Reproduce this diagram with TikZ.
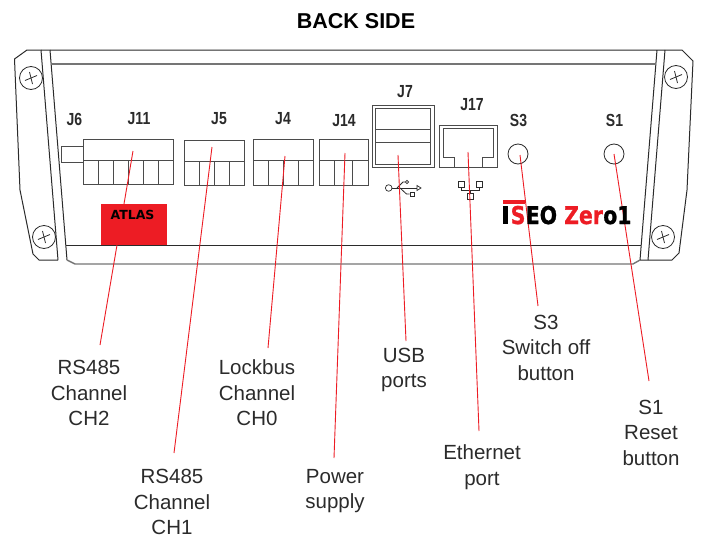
\documentclass[tikz,border=0pt]{standalone}
\usepackage{fontspec}
\setmainfont{Liberation Sans}
\newfontfamily\heavyfont{DejaVu Sans}
\newfontfamily\logofont[BoldFeatures={FakeBold=1.2}]{DejaVu Sans}
\definecolor{redline}{HTML}{ED1C24}
\definecolor{ink}{HTML}{2B2B2B}
\newcommand{\jtxt}[1]{\scalebox{0.8}[1]{\fontsize{17.5}{17.5}\selectfont\bfseries #1}}
\newcommand{\lgtxt}[1]{\scalebox{1}[1.2]{\logofont\fontsize{20.4}{20.4}\selectfont\bfseries #1}}
\begin{document}
\begin{tikzpicture}[x=1pt,y=-1pt,
  body/.style={draw=ink,line width=1pt,line join=round},
  thin part/.style={draw=ink,line width=0.8pt},
  conn/.style={draw=ink!85,line width=0.9pt},
  leader/.style={draw=redline,line width=0.9pt},
  callout/.style={align=center,font=\fontsize{20.5}{25.5}\selectfont,inner sep=0pt,text=ink},
  jlabel/.style={inner sep=0pt,text=ink},
  screw/.style={circle,draw=ink,line width=0.8pt,minimum size=23pt,inner sep=0pt},
  button/.style={circle,draw=ink,line width=0.8pt,minimum size=20pt,inner sep=0pt},
  logo/.style={inner sep=0pt,anchor=base west}]
\useasboundingbox (0,0) rectangle (701,538);
\fill[white] (0,0) rectangle (701,538);
\node[inner sep=0pt,text=black,font=\fontsize{21.5}{21.5}\selectfont\bfseries] (title) at (356,21) {BACK SIDE};
% enclosure
\draw[body] (41,50) -- (27,50) -- (14.5,59) -- (20,190) -- (33,254) -- (39,260) -- (58,260);
\draw[body] (41,50) -- (58,260);
\draw[body] (50,50) -- (67,260);
\draw[body] (41,50) -- (657,50) -- (682,50) -- (693,61) -- (687,190) -- (679,253) -- (672,260) -- (640,260) -- (657,50);
\draw[body] (665,50) -- (648,260);
\draw[draw=ink!65,line width=1.4pt] (67,260) -- (75,264) -- (633,264) -- (640,260);
\draw[draw=ink!65,line width=1.4pt] (52,64) -- (656,64);
\draw[body] (66,245) -- (641,245);
% screws
\foreach \n/\cx/\cy in {a/31/78,b/44/237,c/676/77,d/663/237}{
  \node[screw] (screw\n) at (\cx,\cy) {};
  \draw[thin part] (\cx-6,\cy+2.5) -- (\cx+6,\cy-2.5);
  \draw[thin part] (\cx-1.5,\cy-6) -- (\cx+1.5,\cy+6);
}
% leaders
\coordinate (aj11) at (133,151); \coordinate (ej11) at (100,345);
\coordinate (aj5) at (212,147);  \coordinate (ej5) at (174,453);
\coordinate (aj4) at (285,156);  \coordinate (ej4) at (268,348);
\coordinate (aj14) at (345,153); \coordinate (ej14) at (334,458);
\coordinate (aj7) at (398,155);  \coordinate (ej7) at (406,341);
\coordinate (aj17) at (468,152); \coordinate (ej17) at (479,431);
\coordinate (as3) at (520,155);  \coordinate (es3) at (538,306);
\coordinate (as1) at (614,154);  \coordinate (es1) at (649,381);
% connectors
\draw[conn] (61,146) rectangle (83,162);
\draw[conn] (83,139) rectangle (173,184);
\draw[conn] (83,160) -- (173,160);
\foreach \x in {98,113,128,143,158}{\draw[conn] (\x,160) -- (\x,184);}
\draw[conn] (184,140) rectangle (244,185);
\draw[conn] (184,161) -- (244,161);
\foreach \x in {199,214,229}{\draw[conn] (\x,161) -- (\x,185);}
\draw[conn] (253,139) rectangle (313,185);
\draw[conn] (253,160) -- (313,160);
\foreach \x in {268,283,298}{\draw[conn] (\x,160) -- (\x,185);}
\draw[conn] (319,139) rectangle (368,185);
\draw[conn] (319,160) -- (368,160);
\foreach \x in {334,352}{\draw[conn] (\x,160) -- (\x,185);}
\draw[conn] (372,105) rectangle (434,167);
\draw[conn] (375,108) rectangle (430,164);
\draw[conn] (375,129) -- (430,129);
\draw[conn] (375,142) -- (430,142);
\draw[conn] (439,125) rectangle (497,167);
\draw[conn] (454,167) -- (454,157) -- (443,157) -- (443,128) -- (493,128) -- (493,157) -- (482,157) -- (482,167);
\node[button] (s3) at (518,154) {};
\node[button] (s1) at (614,154) {};
% usb symbol
\node[circle,draw=ink,line width=0.7pt,minimum size=6.6pt,inner sep=0pt] (usbc) at (388.7,188) {};
\coordinate (usbtip) at (417,188);
\draw[thin part] (usbc) -- (usbtip);
\fill[white,draw=ink,line width=0.7pt] (417,185.5) -- (421,188) -- (417,190.5) -- cycle;
\node[circle,draw=ink,line width=0.7pt,minimum size=3.4pt,inner sep=0pt] (usbu) at (407,182) {};
\node[rectangle,draw=ink,line width=0.7pt,minimum size=4pt,inner sep=0pt] (usbd) at (412,194) {};
\draw[thin part] (397,188) -- (403,182) -- (usbu);
\draw[thin part] (400,188) -- (406.5,194) -- (usbd);
% network symbol
\node[rectangle,draw=ink,line width=0.7pt,minimum size=6pt,inner sep=0pt] (neta) at (461,184) {};
\node[rectangle,draw=ink,line width=0.7pt,minimum size=6pt,inner sep=0pt] (netb) at (479,184) {};
\node[rectangle,draw=ink,line width=0.7pt,minimum size=6pt,inner sep=0pt] (netc) at (470,196) {};
\draw[thin part] (neta) -- (461,190) -- (479,190) -- (netb);
\draw[thin part] (470,190) -- (netc);
% leaders drawn
\foreach \p in {j11,j5,j4,j14,j7,j17,s3,s1}{\draw[leader] (a\p) -- (e\p);}
% atlas
\node[rectangle,fill=redline,minimum width=66pt,minimum height=41pt,inner sep=0pt] (atlas) at (134,224.5) {};
\node[inner sep=0pt,text=black,font=\heavyfont\fontsize{12.5}{12.5}\selectfont\bfseries] (atlast) at (132.5,214.5) {ATLAS};
% logo
\fill[redline] (503,200) rectangle (525,204);
\fill[black] (503,206) rectangle (508,224);
\node[logo,text=redline] (lgs) at (510.5,224) {\lgtxt{S}};
\node[logo,text=black] (lge) at (lgs.base east) {\lgtxt{EO}};
\node[logo,text=redline] (lgz) at (564,224) {\lgtxt{Zer}};
\node[logo,text=black] (lgo) at (lgz.base east) {\lgtxt{o1}};
% labels
\node[jlabel] (lj6) at (74.5,119) {\jtxt{J6}};
\node[jlabel] (lj11) at (139,119) {\jtxt{J11}};
\node[jlabel] (lj5) at (219,119) {\jtxt{J5}};
\node[jlabel] (lj4) at (283,119) {\jtxt{J4}};
\node[jlabel] (lj14) at (344,120.5) {\jtxt{J14}};
\node[jlabel] (lj7) at (405,92) {\jtxt{J7}};
\node[jlabel] (lj17) at (472,105) {\jtxt{J17}};
\node[jlabel] (ls3) at (518.5,120.5) {\jtxt{S3}};
\node[jlabel] (ls1) at (614.5,120.5) {\jtxt{S1}};
\node[callout] (c1) at (89,393) {RS485\\Channel\\CH2};
\node[callout] (c2) at (172,502) {RS485\\Channel\\CH1};
\node[callout] (c3) at (257,393) {Lockbus\\Channel\\CH0};
\node[callout] (c4) at (335,491) {Power\\supply};
\node[callout] (c5) at (404,370) {USB\\ports};
\node[callout] (c6) at (482,467) {Ethernet\\port};
\node[callout] (c7) at (546,347.5) {S3\\Switch off\\button};
\node[callout] (c8) at (651,432.5) {S1\\Reset\\button};
\end{tikzpicture}
\end{document}
